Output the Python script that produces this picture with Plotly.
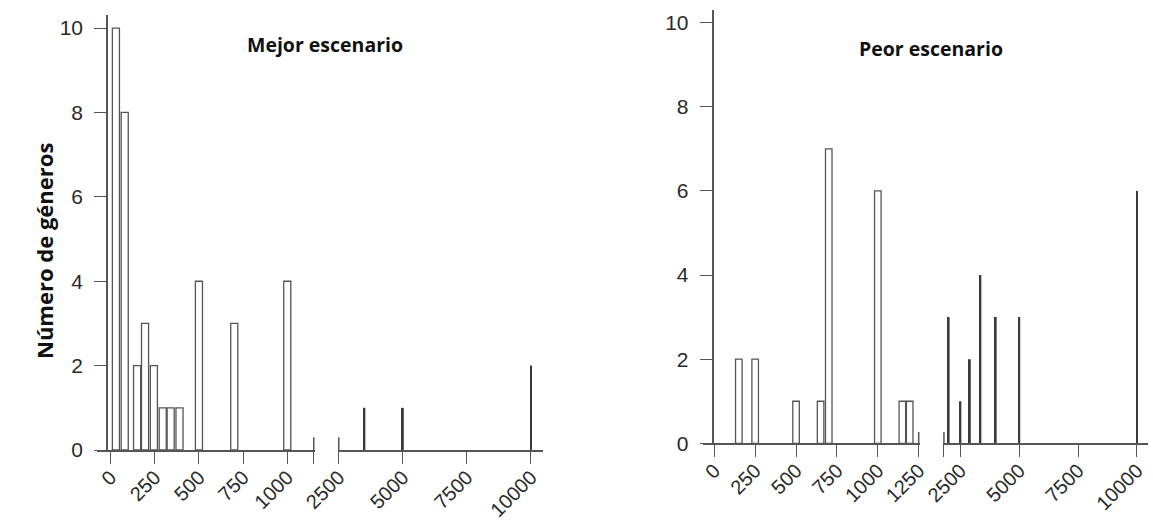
import plotly.graph_objects as go

W, H = 1153, 522

# ---- data -------------------------------------------------------------
# Mejor escenario: low range (outlined bars) and high range (thin bars)
best_low_x = [30, 80, 150, 195, 245, 295, 340, 390, 500, 700, 1000]
best_low_y = [10, 8, 2, 3, 2, 1, 1, 1, 4, 3, 4]
best_high_x = [3500, 5000, 10000]
best_high_y = [1, 1, 2]

# Peor escenario
worst_low_x = [150, 250, 500, 650, 700, 1000, 1150, 1195]
worst_low_y = [2, 2, 1, 1, 7, 6, 1, 1]
worst_high_x = [2000, 2500, 2900, 3350, 4000, 5000, 10000]
worst_high_y = [3, 1, 2, 4, 3, 3, 6]

y_ticks = [0, 2, 4, 6, 8, 10]
best_low_ticks = [0, 250, 500, 750, 1000]
best_high_ticks = [2500, 5000, 7500, 10000]
worst_low_ticks = [0, 250, 500, 750, 1000, 1250]
worst_high_ticks = [2500, 5000, 7500, 10000]

# axis-break positions (value where each segment is cut)
best_breaks = (1150, 2500)
worst_breaks = (1250, 1800)

titles = ["Mejor escenario", "Peor escenario"]
y_title = "Número de géneros"

# ---- styling ----------------------------------------------------------
AX = "#555555"
TXT = "#2a2a2a"
Y_TICK_FONT = dict(family="Liberation Sans, Arial, sans-serif", size=21, color=TXT)
X_TICK_FONT = dict(family="Liberation Sans, Arial, sans-serif", size=20, color=TXT)
TITLE_FONT = dict(family="Open Sans, Lato, sans-serif", size=19.5, color="#111111")


def px(x):
    return x / W


def py(y):
    return 1 - y / H


fig = go.Figure()

outline = dict(color="white", line=dict(color=AX, width=1.3))
solid = dict(color="#3a3a3a", line=dict(width=0))

fig.add_trace(go.Bar(x=best_low_x, y=best_low_y, width=40, marker=outline,
                     xaxis="x", yaxis="y", showlegend=False))
fig.add_trace(go.Bar(x=best_high_x, y=best_high_y, width=75, marker=solid,
                     xaxis="x2", yaxis="y", showlegend=False))
fig.add_trace(go.Bar(x=worst_low_x, y=worst_low_y, width=40, marker=outline,
                     xaxis="x3", yaxis="y2", showlegend=False))
fig.add_trace(go.Bar(x=worst_high_x, y=worst_high_y, width=80, marker=solid,
                     xaxis="x4", yaxis="y2", showlegend=False))

# short upward strokes marking the axis breaks
for xa, ya, xv, h in [("x", "y", best_breaks[0], 0.3), ("x2", "y", best_breaks[1], 0.3),
                      ("x3", "y2", worst_breaks[0], 0.27), ("x4", "y2", worst_breaks[1], 0.27)]:
    fig.add_trace(go.Scatter(x=[xv, xv], y=[0, h], mode="lines",
                             line=dict(color=AX, width=1.5),
                             xaxis=xa, yaxis=ya, showlegend=False, hoverinfo="skip"))


def xaxis(dom, rng, vals, texts, anchor):
    return dict(domain=[px(dom[0]), px(dom[1])], range=rng, anchor=anchor,
                tickmode="array", tickvals=vals, ticktext=texts,
                ticks="outside", ticklen=12, tickwidth=1.3, tickcolor=AX,
                showline=True, linecolor=AX, linewidth=1.5,
                showgrid=False, zeroline=False, tickangle=-45,
                tickfont=X_TICK_FONT, ticklabelstandoff=-6,
                automargin=False, fixedrange=True)


def yaxis(dom, rng, pos):
    return dict(domain=[py(dom[0]), py(dom[1])], range=rng, anchor="free",
                position=px(pos), tickmode="array", tickvals=y_ticks,
                ticks="outside", ticklen=12, tickwidth=1.3, tickcolor=AX,
                showline=True, linecolor=AX, linewidth=1.5,
                showgrid=False, zeroline=False, tickfont=Y_TICK_FONT,
                ticklabelstandoff=7, automargin=False, fixedrange=True)


fig.update_layout(
    width=W, height=H,
    margin=dict(l=0, r=0, t=0, b=0),
    paper_bgcolor="white", plot_bgcolor="rgba(0,0,0,0)",
    xaxis=xaxis((97, 315), [-77, 1157], best_low_ticks + [best_breaks[0]],
                [str(v) for v in best_low_ticks] + [""], "y"),
    xaxis2=xaxis((338, 543), [2470, 10470], best_high_ticks,
                 [str(v) for v in best_high_ticks], "y"),
    xaxis3=xaxis((703, 920), [-69, 1258], worst_low_ticks,
                 [str(v) for v in worst_low_ticks], "y2"),
    xaxis4=xaxis((943, 1148), [1760, 10470], [worst_breaks[1]] + worst_high_ticks,
                 [""] + [str(v) for v in worst_high_ticks], "y2"),
    yaxis=yaxis((450, 15), [0, 10.31], 107),
    yaxis2=yaxis((443.3, 10), [0, 10.3], 712.5),
    annotations=[
        dict(text=f"<b>{titles[0]}</b>", x=px(325), y=py(44), xref="paper", yref="paper",
             showarrow=False, font=TITLE_FONT, xanchor="center", yanchor="middle"),
        dict(text=f"<b>{titles[1]}</b>", x=px(931), y=py(48), xref="paper", yref="paper",
             showarrow=False, font=TITLE_FONT, xanchor="center", yanchor="middle"),
        dict(text=f"<b>{y_title}</b>", x=px(44), y=py(251), xref="paper", yref="paper",
             showarrow=False, textangle=-90, xanchor="center", yanchor="middle",
             font=dict(family="Open Sans, Lato, sans-serif", size=22, color="#111111")),
    ],
)

fig.write_html("out.html", config={"displayModeBar": False})
